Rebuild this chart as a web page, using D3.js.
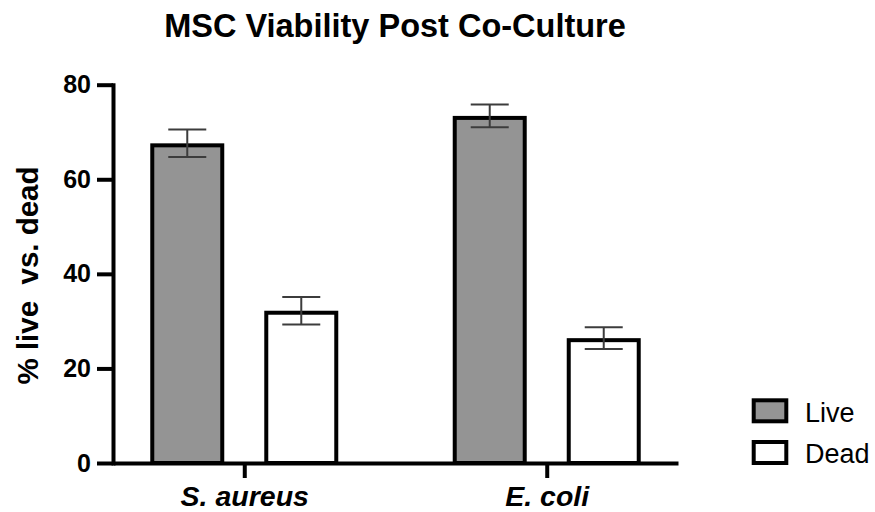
<!DOCTYPE html>
<html>
<head>
<meta charset="utf-8">
<script src="https://cdn.jsdelivr.net/npm/d3@7"></script>
<style>
  body { margin: 0; background: #fff; }
  svg { display: block; font-family: "Liberation Sans", Arial, Helvetica, sans-serif; }
</style>
</head>
<body>
<svg id="chart" width="875" height="512"></svg>
<script>
// Percentage of MSCs live vs. dead after co-culture with each bacterium
const categories = ["S. aureus", "E. coli"];
const series = ["Live", "Dead"];
const liveMean = [67.6, 73.4];
const liveErr = [2.9, 2.4];
const deadMean = [32.2, 26.4];
const deadErr = [2.9, 2.3];
const yTicks = [0, 20, 40, 60, 80];
const seriesFill = ["#949494", "#ffffff"];

const rows = [];
categories.forEach((c, i) => {
  rows.push({ cat: c, series: "Live", mean: liveMean[i], err: liveErr[i] });
  rows.push({ cat: c, series: "Dead", mean: deadMean[i], err: deadErr[i] });
});

const svg = d3.select("#chart");
const plotLeft = 113, plotRight = 678, plotTop = 84.7, plotBottom = 463;
const barStroke = 4;

const x = d3.scalePoint().domain(categories).range([plotLeft, plotRight]).padding(0.434);
const xInner = d3.scaleBand().domain(series).range([-94, 94]).paddingInner(0.351).paddingOuter(0);
const y = d3.scaleLinear().domain([0, 80]).range([plotBottom, plotTop]);
const fill = d3.scaleOrdinal().domain(series).range(seriesFill);

// Title
svg.append("text")
  .attr("x", 395).attr("y", 36.5)
  .attr("text-anchor", "middle")
  .attr("font-size", 32.5).attr("font-weight", "bold")
  .text("MSC Viability Post Co-Culture");

// Bars: outline drawn inside the bar so its outer edge sits on the mean
const g = svg.append("g");
g.selectAll("rect.bar").data(rows).join("rect")
  .attr("class", "bar")
  .attr("x", d => x(d.cat) + xInner(d.series) + barStroke / 2)
  .attr("y", d => y(d.mean) + barStroke / 2)
  .attr("width", xInner.bandwidth() - barStroke)
  .attr("height", d => y(0) - y(d.mean) - barStroke / 2)
  .attr("fill", d => fill(d.series))
  .attr("stroke", "#000").attr("stroke-width", barStroke);

// Error bars (mean ± SD)
const capHalf = 19;
const cx = d => x(d.cat) + xInner(d.series) + xInner.bandwidth() / 2;
const eb = g.selectAll("g.err").data(rows).join("g").attr("class", "err")
  .attr("stroke", "#3c3c3c").attr("stroke-width", 2);
eb.append("line")
  .attr("x1", cx).attr("x2", cx)
  .attr("y1", d => y(d.mean + d.err)).attr("y2", d => y(d.mean - d.err));
eb.append("line")
  .attr("x1", d => cx(d) - capHalf).attr("x2", d => cx(d) + capHalf)
  .attr("y1", d => y(d.mean + d.err)).attr("y2", d => y(d.mean + d.err));
eb.append("line")
  .attr("x1", d => cx(d) - capHalf).attr("x2", d => cx(d) + capHalf)
  .attr("y1", d => y(d.mean - d.err)).attr("y2", d => y(d.mean - d.err));

// Y axis
const yAxis = svg.append("g")
  .attr("transform", `translate(${plotLeft},0)`)
  .call(d3.axisLeft(y).tickValues(yTicks).tickSize(16).tickSizeOuter(0).tickPadding(6));
yAxis.select(".domain").attr("stroke", "#000").attr("stroke-width", 4).attr("stroke-linecap", "square");
yAxis.selectAll(".tick line").attr("stroke", "#000").attr("stroke-width", 4);
yAxis.selectAll(".tick text")
  .attr("font-size", 25).attr("font-weight", "bold").attr("fill", "#000")
  .attr("font-family", "'Liberation Sans', Arial, sans-serif");

// X axis
const xAxis = svg.append("g")
  .attr("transform", `translate(0,${plotBottom})`)
  .call(d3.axisBottom(x).tickSize(15).tickSizeOuter(0).tickPadding(0));
xAxis.select(".domain").attr("stroke", "#000").attr("stroke-width", 4);
xAxis.selectAll(".tick line").attr("stroke", "#000").attr("stroke-width", 4);
xAxis.selectAll(".tick text")
  .attr("y", 43).attr("dy", null)
  .attr("font-size", 28.5).attr("font-weight", "bold").attr("font-style", "italic").attr("fill", "#000")
  .attr("font-family", "'Liberation Sans', Arial, sans-serif");

// Y axis title
svg.append("text")
  .attr("transform", `translate(38,275.5) rotate(-90)`)
  .attr("text-anchor", "middle")
  .attr("font-size", 29.5).attr("font-weight", "bold")
  .attr("xml:space", "preserve")
  .style("white-space", "pre")
  .text("% live  vs. dead");

// Legend
const legend = svg.append("g").selectAll("g").data(series).join("g")
  .attr("transform", (d, i) => `translate(753.7,${400.3 + i * 41.7})`);
legend.append("rect")
  .attr("width", 32.6).attr("height", 21)
  .attr("fill", d => fill(d)).attr("stroke", "#000").attr("stroke-width", 4);
legend.append("text")
  .attr("x", 51.3).attr("y", 21.3)
  .attr("font-size", 27)
  .text(d => d);
</script>
</body>
</html>
